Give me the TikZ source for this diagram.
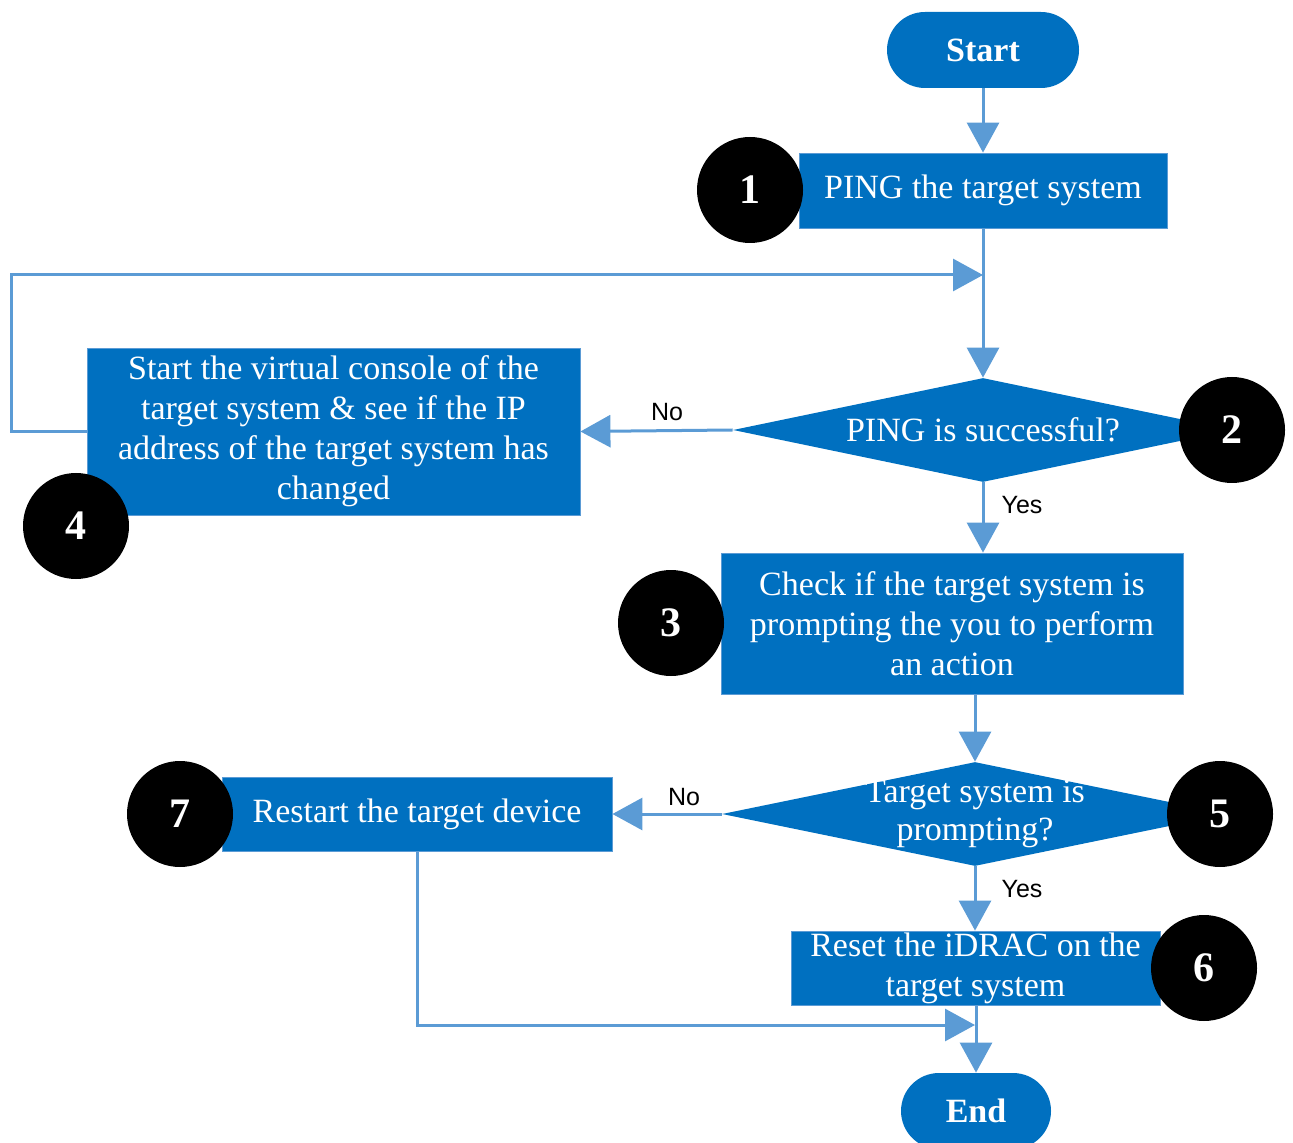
\documentclass[tikz,border=0pt]{standalone}
\usepackage{fontspec}
\setmainfont{Liberation Serif}
\newfontfamily\yesnofont{Liberation Sans}
\usetikzlibrary{shapes.geometric,arrows.meta}

\definecolor{boxblue}{RGB}{0,112,192}
\definecolor{lineblue}{RGB}{91,155,213}

\tikzset{
  stepbox/.style={rectangle, fill=boxblue, draw=lineblue, line width=0.4pt, inner sep=0pt,
    text=white, align=center, font=\fontsize{17}{20}\selectfont},
  terminal/.style={rectangle, rounded corners=19pt, fill=boxblue, inner sep=0pt,
    text=white, font=\fontsize{17}{20}\selectfont\bfseries},
  decision/.style={diamond, fill=boxblue, inner sep=0pt},
  dtext/.style={text=white, align=center, inner sep=0pt, font=\fontsize{17}{19}\selectfont},
  numdot/.style={circle, fill=black, minimum size=53pt, inner sep=0pt,
    text=white, font=\fontsize{21}{24}\selectfont\bfseries},
  yesno/.style={inner sep=0pt, font=\yesnofont\fontsize{12.5}{14}\selectfont},
  flow/.style={draw=lineblue, line width=1.5pt, -{Triangle[length=15pt,width=16pt]}},
  flowline/.style={draw=lineblue, line width=1.5pt}
}

\begin{document}
\begin{tikzpicture}[x=0.5pt,y=-0.5pt]
\useasboundingbox (0,0) rectangle (1293,1143);

%Shape: Terminals
\node[terminal, minimum width=96pt, minimum height=38pt] (start) at (983,50) {Start};
\node[terminal, minimum width=75pt, minimum height=38pt] (end) at (976,1111) {End};

%Shape: Process boxes
\node[stepbox, minimum width=184pt, minimum height=37.5pt] (ping) at (983,190.5) {PING the target system};
\node[stepbox, minimum width=246.5pt, minimum height=83.5pt] (console) at (333.5,431.5)
  {Start the virtual console of the\\target system \& see if the IP\\address of the target system has\\changed};
\node[stepbox, minimum width=231pt, minimum height=70.5pt] (check) at (952,623.5)
  {Check if the target system is\\prompting the you to perform\\an action};
\node[stepbox, minimum width=195pt, minimum height=37pt] (restart) at (417,814) {Restart the target device};
\node[stepbox, minimum width=184.5pt, minimum height=37pt] (reset) at (975.5,968)
  {Reset the iDRAC on the\\target system};

%Shape: Decisions
\node[decision, minimum width=250pt, minimum height=52pt] (pingok) at (983,430) {};
\node[dtext] (pingoktext) at (pingok.center) {PING is successful?};
\node[decision, minimum width=253pt, minimum height=52pt] (prompt) at (975,814) {};
\node[dtext] (prompttext) at (prompt.center) {Target system is\\prompting?};

%Joints
\coordinate (back) at (983,275);
\coordinate (merge) at (975,1025);

%Straight Lines
\draw[flow] (start) -- (ping);
\draw[flow] (ping) -- (pingok);
\draw[flow] (console.west) -- ++(-75,0) |- (back);
\draw[flow] (pingok.west) -- (console.east);
\draw[flow] (pingok.south) -- (check.north -| pingok.south);
\draw[flow] (check.south -| prompt.north) -- (prompt.north);
\draw[flow] (prompt.west) -- (restart.east);
\draw[flow] (prompt.south) -- (reset.north -| prompt.south);
\draw[flow] (restart.south) |- (merge);
\draw[flow] (reset.south -| end.north) -- (end.north);

% Text Node
\node[yesno] (no1) at (667,412) {No};
\node[yesno] (yes1) at (1022,505) {Yes};
\node[yesno] (no2) at (684,797) {No};
\node[yesno] (yes2) at (1022,889) {Yes};

%Shape: Step numbers
\node[numdot] (n1) at (750,190) {1};
\node[numdot] (n2) at (1232,430) {2};
\node[numdot] (n3) at (671,623) {3};
\node[numdot] (n4) at (76,526) {4};
\node[numdot] (n5) at (1220,814) {5};
\node[numdot] (n6) at (1204,968) {6};
\node[numdot] (n7) at (180,814) {7};
\end{tikzpicture}
\end{document}
